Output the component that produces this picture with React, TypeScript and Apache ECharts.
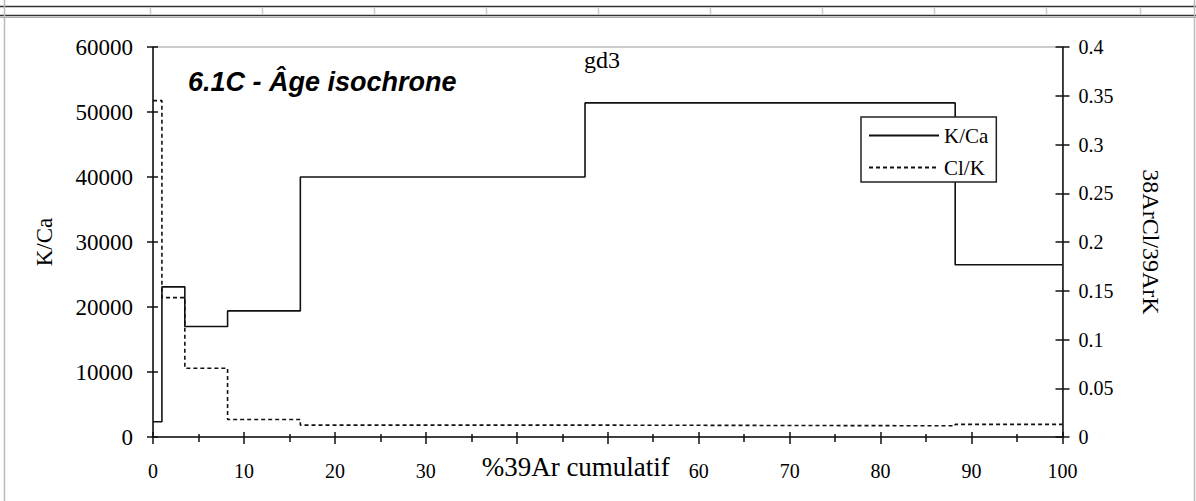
import React, { useEffect, useRef } from "react";
import * as echarts from "echarts";

// Step boundaries (% 39Ar cumulatif) and step values
const stepBounds = [0, 0.98, 3.5, 8.2, 16.2, 47.5, 88.2, 100];
const kCaValues = [2350, 23100, 17000, 19400, 40000, 51400, 26500];
const clKValues = [0.345, 0.143, 0.0705, 0.018, 0.0122, 0.0115, 0.013];

// x tick labels hidden behind the axis title in the reference
const hiddenXLabels = [40, 50];

const seriesNames = ["K/Ca", "Cl/K"];
const chartTitle = "gd3";
const chartSubtitle = "6.1C - Âge isochrone";
const xAxisName = "%39Ar cumulatif";
const yLeftName = "K/Ca";
const yRightName = "38ArCl/39ArK";

function toSteps(bounds: number[], vals: number[]) {
  const pts: number[][] = [];
  vals.forEach((v, i) => {
    pts.push([bounds[i], v]);
    pts.push([bounds[i + 1], v]);
  });
  return pts;
}

const SERIF = "'Liberation Serif', 'Times New Roman', serif";
const SANS = "'Liberation Sans', Arial, sans-serif";
const INK = "#111";

export default function App() {
  const ref = useRef<HTMLDivElement>(null);

  useEffect(() => {
    if (!ref.current) return;
    const chart = echarts.init(ref.current, undefined, { renderer: "svg" });

    const gridTicks = [150, 262, 374, 486, 598, 710, 822, 934, 1046, 1140];
    const deco: any[] = [
      { type: "line", shape: { x1: 0, y1: 6.5, x2: 1196, y2: 6.5 }, style: { stroke: "#333", lineWidth: 1.5 } },
      { type: "line", shape: { x1: 0, y1: 15.5, x2: 1196, y2: 15.5 }, style: { stroke: "#333", lineWidth: 1.5 } },
      { type: "line", shape: { x1: 0, y1: 17.5, x2: 1196, y2: 17.5 }, style: { stroke: "#aaa", lineWidth: 1 } },
      { type: "line", shape: { x1: 4.5, y1: 0, x2: 4.5, y2: 501 }, style: { stroke: "#bbb", lineWidth: 1.5 } },
      { type: "line", shape: { x1: 1194.5, y1: 0, x2: 1194.5, y2: 501 }, style: { stroke: "#bbb", lineWidth: 1.5 } },
      ...gridTicks.map((x) => ({
        type: "line",
        shape: { x1: x + 0.5, y1: 7.5, x2: x + 0.5, y2: 15 },
        style: { stroke: "#ccc", lineWidth: 1.5 },
      })),
    ];

    const xCommon = {
      type: "value",
      min: 0,
      max: 100,
      interval: 10,
      position: "bottom",
      splitLine: { show: false },
    };
    const yLeftCommon = {
      type: "value",
      min: 0,
      max: 60000,
      interval: 10000,
      position: "left",
      splitLine: { show: false },
    };
    const yRightCommon = {
      type: "value",
      min: 0,
      max: 0.4,
      interval: 0.05,
      position: "right",
      splitLine: { show: false },
    };

    chart.setOption({
      animation: false,
      backgroundColor: "#fff",
      title: [
        {
          text: chartTitle,
          left: 579,
          top: 43,
          textStyle: { fontFamily: SERIF, fontSize: 24, fontWeight: "normal", color: "#000" },
        },
        {
          text: chartSubtitle,
          left: 183,
          top: 63,
          textStyle: { fontFamily: SANS, fontSize: 27, fontWeight: "bold", fontStyle: "italic", color: "#000" },
        },
      ],
      legend: {
        data: seriesNames,
        orient: "vertical",
        left: 861,
        top: 117,
        backgroundColor: "#fff",
        borderColor: "#222",
        borderWidth: 1.5,
        borderRadius: 0,
        padding: [8, 8, 4, 7],
        itemWidth: 70,
        itemHeight: 14,
        itemGap: 11,
        itemStyle: { opacity: 0 },
        textStyle: { fontFamily: SERIF, fontSize: 21, color: "#000" },
      },
      grid: {
        left: 153,
        right: 133.5,
        top: 47,
        bottom: 64,
        show: true,
        borderColor: "#999",
        borderWidth: 1,
        backgroundColor: "transparent",
      },
      xAxis: [
        {
          ...xCommon,
          axisLine: { show: true, lineStyle: { color: INK, width: 1.5 } },
          axisTick: { show: true, inside: false, length: 7, lineStyle: { color: INK, width: 1.5 } },
          minorTick: { show: true, splitNumber: 2, length: 5, lineStyle: { color: INK, width: 1.5 } },
          axisLabel: {
            show: true,
            margin: 24,
            fontFamily: SERIF,
            fontSize: 20,
            color: "#000",
            formatter: (v: number) => (hiddenXLabels.includes(v) ? "" : String(v)),
          },
          name: xAxisName,
          nameLocation: "middle",
          nameGap: 16,
          nameMoveOverlap: false,
          nameTextStyle: {
            fontFamily: SERIF,
            fontSize: 27,
            color: "#000",
            padding: [0, 64, 0, 0],
          },
        },
        {
          ...xCommon,
          axisLine: { show: false },
          axisTick: { show: true, inside: true, length: 5, lineStyle: { color: INK, width: 1.5 } },
          minorTick: { show: true, splitNumber: 2, length: 3, lineStyle: { color: INK, width: 1.5 } },
          axisLabel: { show: false },
        },
      ],
      yAxis: [
        {
          ...yLeftCommon,
          axisLine: { show: true, lineStyle: { color: INK, width: 1.5 } },
          axisTick: { show: true, inside: false, length: 6, lineStyle: { color: INK, width: 1.5 } },
          axisLabel: {
            show: true,
            margin: 20,
            fontFamily: SERIF,
            fontSize: 23,
            color: "#000",
            formatter: (v: number) => String(v),
          },
          name: yLeftName,
          nameLocation: "middle",
          nameGap: 97,
          nameMoveOverlap: false,
          nameTextStyle: { fontFamily: SERIF, fontSize: 23, color: "#000" },
        },
        {
          ...yLeftCommon,
          axisLine: { show: false },
          axisTick: { show: true, inside: true, length: 5, lineStyle: { color: INK, width: 1.5 } },
          axisLabel: { show: false },
        },
        {
          ...yRightCommon,
          axisLine: { show: true, lineStyle: { color: INK, width: 1.5 } },
          axisTick: { show: true, inside: false, length: 7, lineStyle: { color: INK, width: 1.5 } },
          axisLabel: { show: true, margin: 16, fontFamily: SERIF, fontSize: 20, color: "#000" },
          name: yRightName,
          nameLocation: "middle",
          nameGap: 76,
          nameRotate: -90,
          nameMoveOverlap: false,
          nameTextStyle: { fontFamily: SERIF, fontSize: 24, color: "#000" },
        },
        {
          ...yRightCommon,
          axisLine: { show: false },
          axisTick: { show: true, inside: true, length: 7, lineStyle: { color: INK, width: 1.5 } },
          axisLabel: { show: false },
        },
      ],
      series: [
        {
          name: seriesNames[0],
          type: "line",
          xAxisIndex: 0,
          yAxisIndex: 0,
          data: toSteps(stepBounds, kCaValues),
          symbol: "none",
          lineStyle: { color: INK, width: 1.6, type: "solid" },
          itemStyle: { color: INK },
        },
        {
          name: seriesNames[1],
          type: "line",
          xAxisIndex: 0,
          yAxisIndex: 2,
          data: toSteps(stepBounds, clKValues),
          symbol: "none",
          lineStyle: { color: INK, width: 1.6, type: [4, 3] },
          itemStyle: { color: INK },
        },
      ],
      graphic: deco,
    });

    return () => chart.dispose();
  }, []);

  return (
    <div
      ref={ref}
      style={{ position: "fixed", left: 0, top: 0, width: 1196, height: 501, background: "#fff" }}
    />
  );
}
